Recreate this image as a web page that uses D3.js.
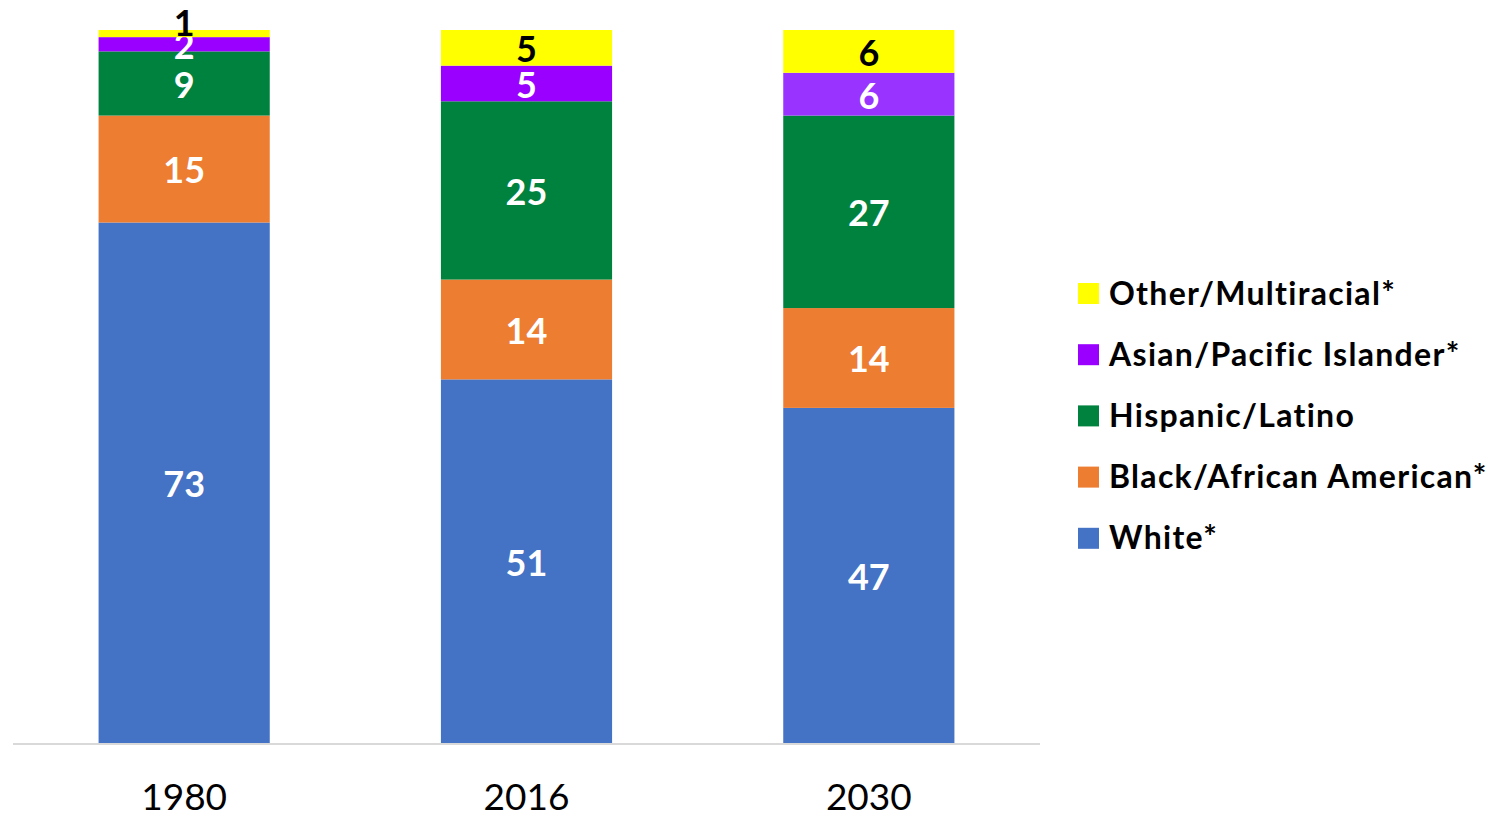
<!DOCTYPE html>
<html>
<head>
<meta charset="utf-8">
<script src="https://cdn.jsdelivr.net/npm/d3@7"></script>
<style>
  body { margin: 0; background: #fff; }
  text { font-family: Lato, "Open Sans", sans-serif; }
</style>
</head>
<body>
<svg id="chart" width="1500" height="816"></svg>
<script>
// years on the x axis
var years = ["1980", "2016", "2030"];

// groups, bottom of the stack first
var groups = ["White*", "Black/African American*", "Hispanic/Latino", "Asian/Pacific Islander*", "Other/Multiracial*"];

// percent of population per group, one value per year
var white    = [73, 51, 47];
var black    = [15, 14, 14];
var hispanic = [9, 25, 27];
var asian    = [2, 5, 6];
var other    = [1, 5, 6];

var colors = ["#4472C4", "#ED7D31", "#00823F", "#9900FF", "#FFFF00"];
var labelColors = ["#fff", "#fff", "#fff", "#fff", "#000"];

// build the rows d3.stack wants
var series = [white, black, hispanic, asian, other];
var rows = years.map(function(y, i) {
  var r = { year: y };
  groups.forEach(function(g, k) { r[g] = series[k][i]; });
  return r;
});

var svg = d3.select("#chart");

var xScale = d3.scaleBand()
    .domain(years)
    .range([13, 1040])
    .paddingInner(0.5)
    .paddingOuter(0.25);

var yScale = d3.scaleLinear()
    .domain([0, 100])
    .range([743, 30]);

var stacked = d3.stack().keys(groups)(rows);

// baseline
svg.append("line")
  .attr("x1", 13)
  .attr("x2", 1040)
  .attr("y1", 744)
  .attr("y2", 744)
  .style("stroke", "#d9d9d9")
  .style("stroke-width", 2);

var layer = svg.selectAll(".layer")
  .data(stacked)
  .enter().append("g")
  .attr("class", "layer");

layer.selectAll("rect")
  .data(function(d, k) { return d.map(function(p) { return { p: p, k: k }; }); })
  .enter().append("rect")
  .attr("x", function(d) { return xScale(d.p.data.year); })
  .attr("width", xScale.bandwidth())
  .attr("y", function(d) { return yScale(d.p[1]); })
  .attr("height", function(d) { return yScale(d.p[0]) - yScale(d.p[1]); })
  .style("fill", function(d) {
    // the 2030 asian block is a lighter purple in the original
    if (d.k == 3 && d.p.data.year == "2030") return "#9933FF";
    return colors[d.k];
  });

// value labels
layer.selectAll("text")
  .data(function(d, k) { return d.map(function(p) { return { p: p, k: k }; }); })
  .enter().append("text")
  .attr("x", function(d) { return xScale(d.p.data.year) + xScale.bandwidth() / 2; })
  .attr("y", function(d) {
    var top = yScale(d.p[1]), bottom = yScale(d.p[0]);
    var mid = (top + bottom) / 2;
    // very thin segments get their label pushed up
    if (bottom - top < 10) mid -= 12;
    return mid;
  })
  .attr("dy", "0.4em")
  .attr("text-anchor", "middle")
  .style("font-size", "36px")
  .style("font-weight", "bold")
  .style("fill", function(d) { return labelColors[d.k]; })
  .text(function(d) { return d.p.data[groups[d.k]]; });

// year labels
svg.selectAll(".year")
  .data(years)
  .enter().append("text")
  .attr("class", "year")
  .attr("x", function(d) { return xScale(d) + xScale.bandwidth() / 2; })
  .attr("y", 810)
  .attr("text-anchor", "middle")
  .style("font-size", "37px")
  .style("fill", "#000")
  .text(function(d) { return d; });

// legend, top entry is the top of the stack
var legendItems = groups.slice().reverse();
var legend = svg.selectAll(".legend")
  .data(legendItems)
  .enter().append("g")
  .attr("class", "legend")
  .attr("transform", function(d, i) { return "translate(1078," + (293 + i * 61.2) + ")"; });

legend.append("rect")
  .attr("x", 0)
  .attr("y", -10)
  .attr("width", 21)
  .attr("height", 21)
  .style("fill", function(d) { return colors[groups.indexOf(d)]; });

legend.append("text")
  .attr("x", 31)
  .attr("y", 0)
  .attr("dy", "0.36em")
  .style("font-size", "32px")
  .style("font-weight", "bold")
  .style("letter-spacing", "1.3px")
  .style("fill", "#000")
  .text(function(d) { return d; });
</script>
</body>
</html>
